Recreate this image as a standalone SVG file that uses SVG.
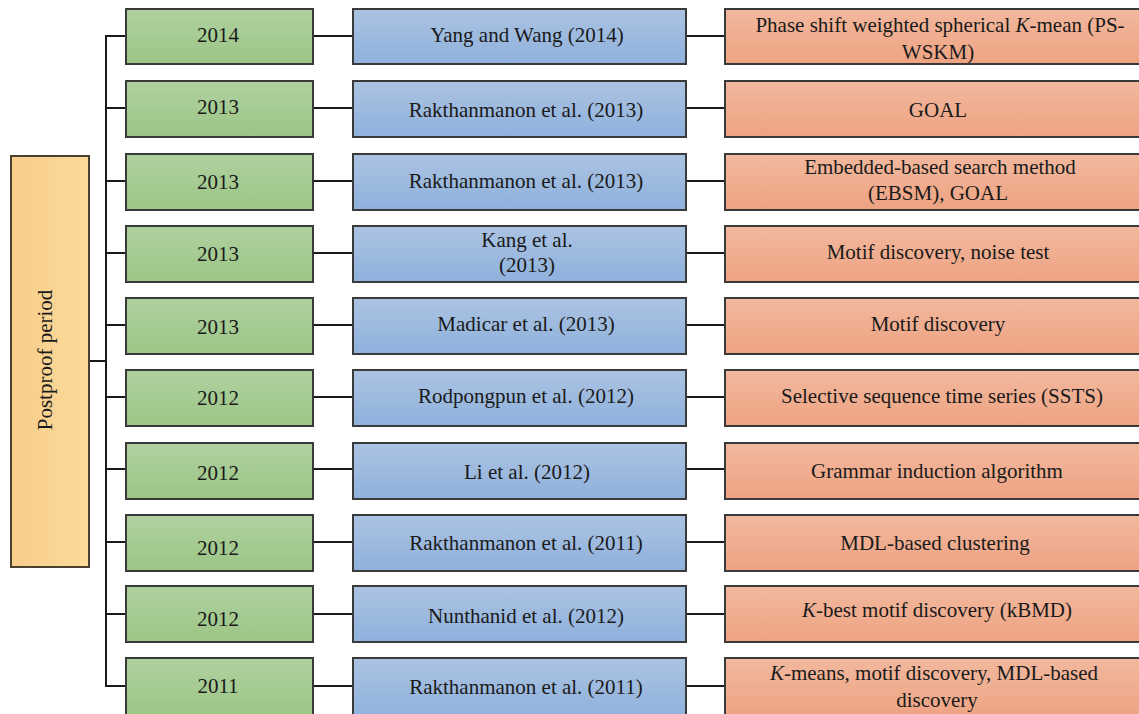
<svg xmlns="http://www.w3.org/2000/svg" width="1139" height="714" viewBox="0 0 1139 714">
<defs>
<linearGradient id="gG" x1="0" y1="0" x2="0" y2="1"><stop offset="0" stop-color="#b1d1a0"/><stop offset="1" stop-color="#9bc585"/></linearGradient>
<linearGradient id="gB" x1="0" y1="0" x2="0" y2="1"><stop offset="0" stop-color="#abc3e2"/><stop offset="1" stop-color="#8fb1dc"/></linearGradient>
<linearGradient id="gO" x1="0" y1="0" x2="0" y2="1"><stop offset="0" stop-color="#f2b89e"/><stop offset="1" stop-color="#eea382"/></linearGradient>
<linearGradient id="gY" x1="0" y1="0" x2="1" y2="0"><stop offset="0" stop-color="#f7cd8a"/><stop offset="1" stop-color="#fcda9a"/></linearGradient>
</defs>
<style>
.g{fill:url(#gG);stroke:#3a3a3a;stroke-width:2}
.b{fill:url(#gB);stroke:#3a3a3a;stroke-width:2}
.o{fill:url(#gO);stroke:#3a3a3a;stroke-width:2}
.y{fill:url(#gY);stroke:#4a4030;stroke-width:2}
text{font-family:"Liberation Serif","Times New Roman",serif;font-size:21px;fill:#1a1a1a;text-anchor:middle}
.c line{stroke:#1a1a1a;stroke-width:2}
</style>
<g class="c" id="connectors">
<line x1="89" y1="361" x2="106" y2="361"/>
<line x1="106" y1="36" x2="106" y2="686"/>
<line x1="105" y1="36" x2="126" y2="36"/>
<line x1="105" y1="108" x2="126" y2="108"/>
<line x1="105" y1="181" x2="126" y2="181"/>
<line x1="105" y1="253" x2="126" y2="253"/>
<line x1="105" y1="325" x2="126" y2="325"/>
<line x1="105" y1="397" x2="126" y2="397"/>
<line x1="105" y1="469" x2="126" y2="469"/>
<line x1="105" y1="542" x2="126" y2="542"/>
<line x1="105" y1="614" x2="126" y2="614"/>
<line x1="105" y1="686" x2="126" y2="686"/>
<line x1="313" y1="36" x2="353" y2="36"/><line x1="686" y1="36" x2="725" y2="36"/>
<line x1="313" y1="108" x2="353" y2="108"/><line x1="686" y1="108" x2="725" y2="108"/>
<line x1="313" y1="181" x2="353" y2="181"/><line x1="686" y1="181" x2="725" y2="181"/>
<line x1="313" y1="253" x2="353" y2="253"/><line x1="686" y1="253" x2="725" y2="253"/>
<line x1="313" y1="325" x2="353" y2="325"/><line x1="686" y1="325" x2="725" y2="325"/>
<line x1="313" y1="397" x2="353" y2="397"/><line x1="686" y1="397" x2="725" y2="397"/>
<line x1="313" y1="469" x2="353" y2="469"/><line x1="686" y1="469" x2="725" y2="469"/>
<line x1="313" y1="542" x2="353" y2="542"/><line x1="686" y1="542" x2="725" y2="542"/>
<line x1="313" y1="614" x2="353" y2="614"/><line x1="686" y1="614" x2="725" y2="614"/>
<line x1="313" y1="686" x2="353" y2="686"/><line x1="686" y1="686" x2="725" y2="686"/>
</g>
<g id="root"><rect class="y" x="11" y="156" width="78" height="411"/><text transform="translate(52,360) rotate(-90)">Postproof period</text></g>

<g id="y1"><rect class="g" x="126" y="9" width="187" height="55"/><text x="218" y="42">2014</text></g>
<g id="a1"><rect class="b" x="353" y="9" width="333" height="55"/><text x="527" y="42">Yang and Wang (2014)</text></g>
<g id="m1"><rect class="o" x="725" y="9" width="418" height="55"/><text x="940" y="32">Phase shift weighted spherical <tspan font-style="italic">K</tspan>-mean (PS-</text><text x="938" y="59">WSKM)</text></g>

<g id="y2"><rect class="g" x="126" y="81" width="187" height="56"/><text x="218" y="114">2013</text></g>
<g id="a2"><rect class="b" x="353" y="81" width="333" height="56"/><text x="526" y="117">Rakthanmanon et al. (2013)</text></g>
<g id="m2"><rect class="o" x="725" y="81" width="418" height="56"/><text x="938" y="117">GOAL</text></g>

<g id="y3"><rect class="g" x="126" y="154" width="187" height="56"/><text x="218" y="189">2013</text></g>
<g id="a3"><rect class="b" x="353" y="154" width="333" height="56"/><text x="526" y="188">Rakthanmanon et al. (2013)</text></g>
<g id="m3"><rect class="o" x="725" y="154" width="418" height="56"/><text x="940" y="174">Embedded-based search method</text><text x="938" y="200">(EBSM), GOAL</text></g>

<g id="y4"><rect class="g" x="126" y="226" width="187" height="56"/><text x="218" y="261">2013</text></g>
<g id="a4"><rect class="b" x="353" y="226" width="333" height="56"/><text x="527" y="247">Kang et al.</text><text x="527" y="272">(2013)</text></g>
<g id="m4"><rect class="o" x="725" y="226" width="418" height="56"/><text x="938" y="259">Motif discovery, noise test</text></g>

<g id="y5"><rect class="g" x="126" y="298" width="187" height="56"/><text x="218" y="334">2013</text></g>
<g id="a5"><rect class="b" x="353" y="298" width="333" height="56"/><text x="526" y="331">Madicar et al. (2013)</text></g>
<g id="m5"><rect class="o" x="725" y="298" width="418" height="56"/><text x="938" y="331">Motif discovery</text></g>

<g id="y6"><rect class="g" x="126" y="370" width="187" height="56"/><text x="218" y="405">2012</text></g>
<g id="a6"><rect class="b" x="353" y="370" width="333" height="56"/><text x="526" y="403">Rodpongpun et al. (2012)</text></g>
<g id="m6"><rect class="o" x="725" y="370" width="418" height="56"/><text x="942" y="403">Selective sequence time series (SSTS)</text></g>

<g id="y7"><rect class="g" x="126" y="443" width="187" height="56"/><text x="218" y="480">2012</text></g>
<g id="a7"><rect class="b" x="353" y="443" width="333" height="56"/><text x="527" y="479">Li et al. (2012)</text></g>
<g id="m7"><rect class="o" x="725" y="443" width="418" height="56"/><text x="937" y="478">Grammar induction algorithm</text></g>

<g id="y8"><rect class="g" x="126" y="515" width="187" height="56"/><text x="218" y="555">2012</text></g>
<g id="a8"><rect class="b" x="353" y="515" width="333" height="56"/><text x="526" y="550">Rakthanmanon et al. (2011)</text></g>
<g id="m8"><rect class="o" x="725" y="515" width="418" height="56"/><text x="935" y="550">MDL-based clustering</text></g>

<g id="y9"><rect class="g" x="126" y="586" width="187" height="56"/><text x="218" y="626">2012</text></g>
<g id="a9"><rect class="b" x="353" y="586" width="333" height="56"/><text x="526" y="623">Nunthanid et al. (2012)</text></g>
<g id="m9"><rect class="o" x="725" y="586" width="418" height="56"/><text x="937" y="617"><tspan font-style="italic">K</tspan>-best motif discovery (kBMD)</text></g>

<g id="y10"><rect class="g" x="126" y="658" width="187" height="60"/><text x="218" y="693">2011</text></g>
<g id="a10"><rect class="b" x="353" y="658" width="333" height="60"/><text x="526" y="694">Rakthanmanon et al. (2011)</text></g>
<g id="m10"><rect class="o" x="725" y="658" width="418" height="60"/><text x="934" y="680"><tspan font-style="italic">K</tspan>-means, motif discovery, MDL-based</text><text x="937" y="707">discovery</text></g>
</svg>
